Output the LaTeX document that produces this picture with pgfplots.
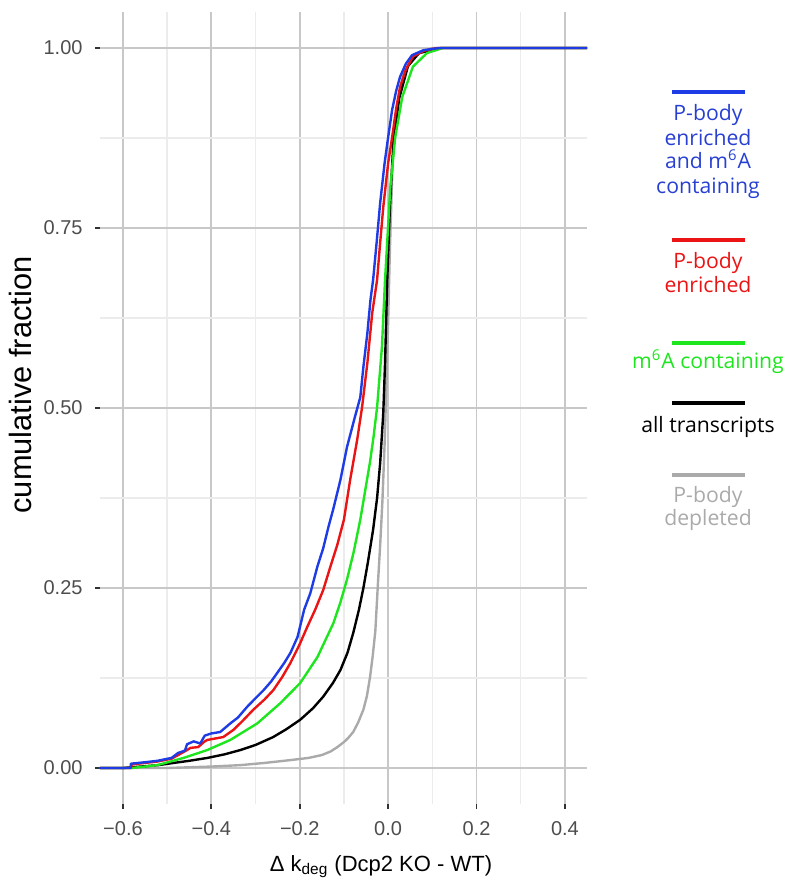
\documentclass[border=0pt]{standalone}
\usepackage{pgfplots}
\pgfplotsset{compat=1.18}
\usepackage{fontspec}
\setmainfont{Liberation Sans}
\newfontfamily\legfont{Open Sans}
\definecolor{cBlue}{RGB}{30,60,230}
\definecolor{cBlueT}{RGB}{40,64,210}
\definecolor{cRed}{RGB}{235,20,20}
\definecolor{cGreen}{RGB}{30,230,30}
\definecolor{cGray}{RGB}{170,170,170}
\definecolor{gridMaj}{RGB}{200,200,200}
\definecolor{gridMin}{RGB}{236,236,236}
\definecolor{tickTxt}{RGB}{77,77,77}
\begin{document}
\begin{tikzpicture}
\useasboundingbox (-50pt,-39pt) rectangle (345pt,402pt);
\begin{axis}[
  at={(0pt,0pt)}, anchor=south west,
  scale only axis, width=243.5pt, height=396pt,
  xmin=-0.652, xmax=0.45, ymin=-0.05, ymax=1.05,
  axis line style={draw=none},
  xtick pos=bottom, ytick pos=left,
  xtick={-0.6,-0.4,-0.2,0,0.2,0.4},
  xticklabels={−0.6,−0.4,−0.2,0.0,0.2,0.4},
  ytick={0,0.25,0.5,0.75,1},
  yticklabels={0.00,0.25,0.50,0.75,1.00},
  minor xtick={-0.5,-0.3,-0.1,0.1,0.3},
  minor ytick={0.125,0.375,0.625,0.875},
  grid=both,
  major grid style={draw=gridMaj, line width=0.9pt},
  minor grid style={draw=gridMin, line width=0.7pt},
  tick align=outside,
  major tick length=2.5pt, minor tick length=0pt,
  tick style={draw=black!80, line width=0.9pt},
  x tick label style={font=\fontsize{10}{12}\selectfont, text=tickTxt, anchor=mid, yshift=-10.5pt},
  y tick label style={font=\fontsize{10}{12}\selectfont, text=tickTxt, anchor=east, xshift=-2.7pt},
  xlabel={Δ k\textsubscript{deg} (Dcp2 KO - WT)},
  xlabel style={font=\fontsize{11}{13}\selectfont, at={(axis description cs:0.577,0)}, anchor=mid, yshift=-31pt},
  ylabel={cumulative fraction},
  ylabel style={font=\fontsize{15.4}{17}\selectfont, at={(axis description cs:-0.152,0.529)}, anchor=mid},
  every axis plot/.append style={line width=1.2pt, line join=round},
]
\addplot[cGray] coordinates {
(-0.652,0) (-0.50,0) (-0.45,0.001) (-0.40,0.002) (-0.334,0.004) (-0.28,0.007)
(-0.221,0.011) (-0.18,0.014) (-0.15,0.018) (-0.13,0.023) (-0.115,0.029)
(-0.10,0.036) (-0.09,0.042) (-0.079,0.05) (-0.068,0.063) (-0.056,0.081)
(-0.048,0.10) (-0.041,0.126) (-0.035,0.155) (-0.029,0.19) (-0.023,0.257)
(-0.018,0.31) (-0.013,0.37) (-0.008,0.45) (-0.004,0.53) (0.0,0.62) (0.004,0.72)
(0.01,0.84) (0.02,0.92) (0.035,0.965) (0.06,0.99) (0.1,1.0) (0.45,1.0)};
\addplot[black] coordinates {
(-0.652,0) (-0.60,0) (-0.56,0.002) (-0.52,0.004) (-0.486,0.007) (-0.45,0.010)
(-0.409,0.014) (-0.37,0.019) (-0.334,0.025) (-0.30,0.032) (-0.26,0.043)
(-0.23,0.054) (-0.199,0.067) (-0.17,0.083) (-0.147,0.099) (-0.125,0.118)
(-0.108,0.136) (-0.092,0.16) (-0.079,0.1875) (-0.066,0.22) (-0.056,0.25)
(-0.046,0.285) (-0.034,0.331) (-0.025,0.375) (-0.018,0.424) (-0.011,0.493)
(-0.007,0.5625) (-0.002,0.678) (0.004,0.78) (0.012,0.87) (0.025,0.93)
(0.045,0.975) (0.07,0.993) (0.12,1.0) (0.45,1.0)};
\addplot[cGreen] coordinates {
(-0.652,0) (-0.58,0) (-0.55,0.002) (-0.522,0.004) (-0.463,0.014) (-0.409,0.025)
(-0.357,0.039) (-0.296,0.062) (-0.244,0.090) (-0.199,0.118) (-0.16,0.154)
(-0.124,0.201) (-0.108,0.23) (-0.093,0.262) (-0.078,0.30) (-0.063,0.345)
(-0.052,0.385) (-0.041,0.425) (-0.033,0.46) (-0.025,0.501) (-0.014,0.585)
(-0.007,0.678) (0.005,0.807) (0.016,0.876) (0.032,0.932) (0.056,0.974)
(0.088,0.993) (0.124,1.0) (0.45,1.0)};
\addplot[cRed] coordinates {
(-0.652,0) (-0.582,0) (-0.58,0.005) (-0.522,0.009) (-0.49,0.013) (-0.475,0.018)
(-0.455,0.025) (-0.447,0.028) (-0.43,0.029) (-0.415,0.037) (-0.409,0.039)
(-0.373,0.043) (-0.35,0.053) (-0.33,0.065) (-0.305,0.081) (-0.28,0.095)
(-0.260,0.108) (-0.24,0.126) (-0.221,0.146) (-0.2,0.172) (-0.183,0.196)
(-0.165,0.22) (-0.147,0.247) (-0.131,0.279) (-0.115,0.31) (-0.10,0.345)
(-0.086,0.40) (-0.070,0.456) (-0.059,0.501) (-0.047,0.5625) (-0.036,0.632)
(-0.025,0.678) (-0.018,0.73) (-0.011,0.779) (0.0,0.84) (0.009,0.876)
(0.018,0.915) (0.027,0.946) (0.04,0.97) (0.056,0.988) (0.08,0.996) (0.11,1.0) (0.45,1.0)};
\addplot[cBlue] coordinates {
(-0.652,0) (-0.583,0) (-0.582,0.006) (-0.55,0.008) (-0.522,0.010) (-0.49,0.014)
(-0.475,0.021) (-0.46,0.024) (-0.455,0.033) (-0.44,0.037) (-0.425,0.034)
(-0.415,0.045) (-0.40,0.048) (-0.38,0.050) (-0.357,0.062) (-0.34,0.070)
(-0.319,0.085) (-0.30,0.097) (-0.282,0.108) (-0.265,0.12) (-0.251,0.132)
(-0.235,0.146) (-0.221,0.160) (-0.205,0.182) (-0.19,0.22) (-0.176,0.243)
(-0.16,0.28) (-0.147,0.305) (-0.135,0.335) (-0.124,0.36) (-0.108,0.40)
(-0.093,0.446) (-0.075,0.488) (-0.063,0.515) (-0.056,0.557) (-0.047,0.604)
(-0.040,0.65) (-0.034,0.678) (-0.026,0.73) (-0.018,0.785) (-0.008,0.84)
(0.0,0.876) (0.009,0.914) (0.018,0.94) (0.027,0.96) (0.04,0.978) (0.054,0.99)
(0.08,0.997) (0.117,1.0) (0.45,1.0)};
\end{axis}
% legend
\begin{scope}[every node/.style={font=\legfont\fontsize{10.6}{12.6}\selectfont, anchor=mid, inner sep=0pt}]
\draw[cBlue, line width=2pt] (286pt,356pt) -- (322.5pt,356pt);
\node[text=cBlueT] at (304pt,344.5pt) {P-body};
\node[text=cBlueT] at (304pt,332pt) {enriched};
\node[text=cBlueT] at (304pt,320.5pt) {and m\textsuperscript{6}A};
\node[text=cBlueT] at (304pt,308pt) {containing};
\draw[cRed, line width=2pt] (286pt,282pt) -- (322.5pt,282pt);
\node[text=cRed] at (304pt,270.5pt) {P-body};
\node[text=cRed] at (304pt,258.5pt) {enriched};
\draw[cGreen, line width=2pt] (286pt,230.5pt) -- (322.5pt,230.5pt);
\node[text=cGreen] at (304pt,220.5pt) {m\textsuperscript{6}A containing};
\draw[black, line width=2pt] (286pt,200.5pt) -- (322.5pt,200.5pt);
\node[text=black] at (304pt,188.5pt) {all transcripts};
\draw[cGray, line width=2pt] (286pt,164.5pt) -- (322.5pt,164.5pt);
\node[text=cGray] at (304pt,153.5pt) {P-body};
\node[text=cGray] at (304pt,142pt) {depleted};
\end{scope}
\end{tikzpicture}
\end{document}
